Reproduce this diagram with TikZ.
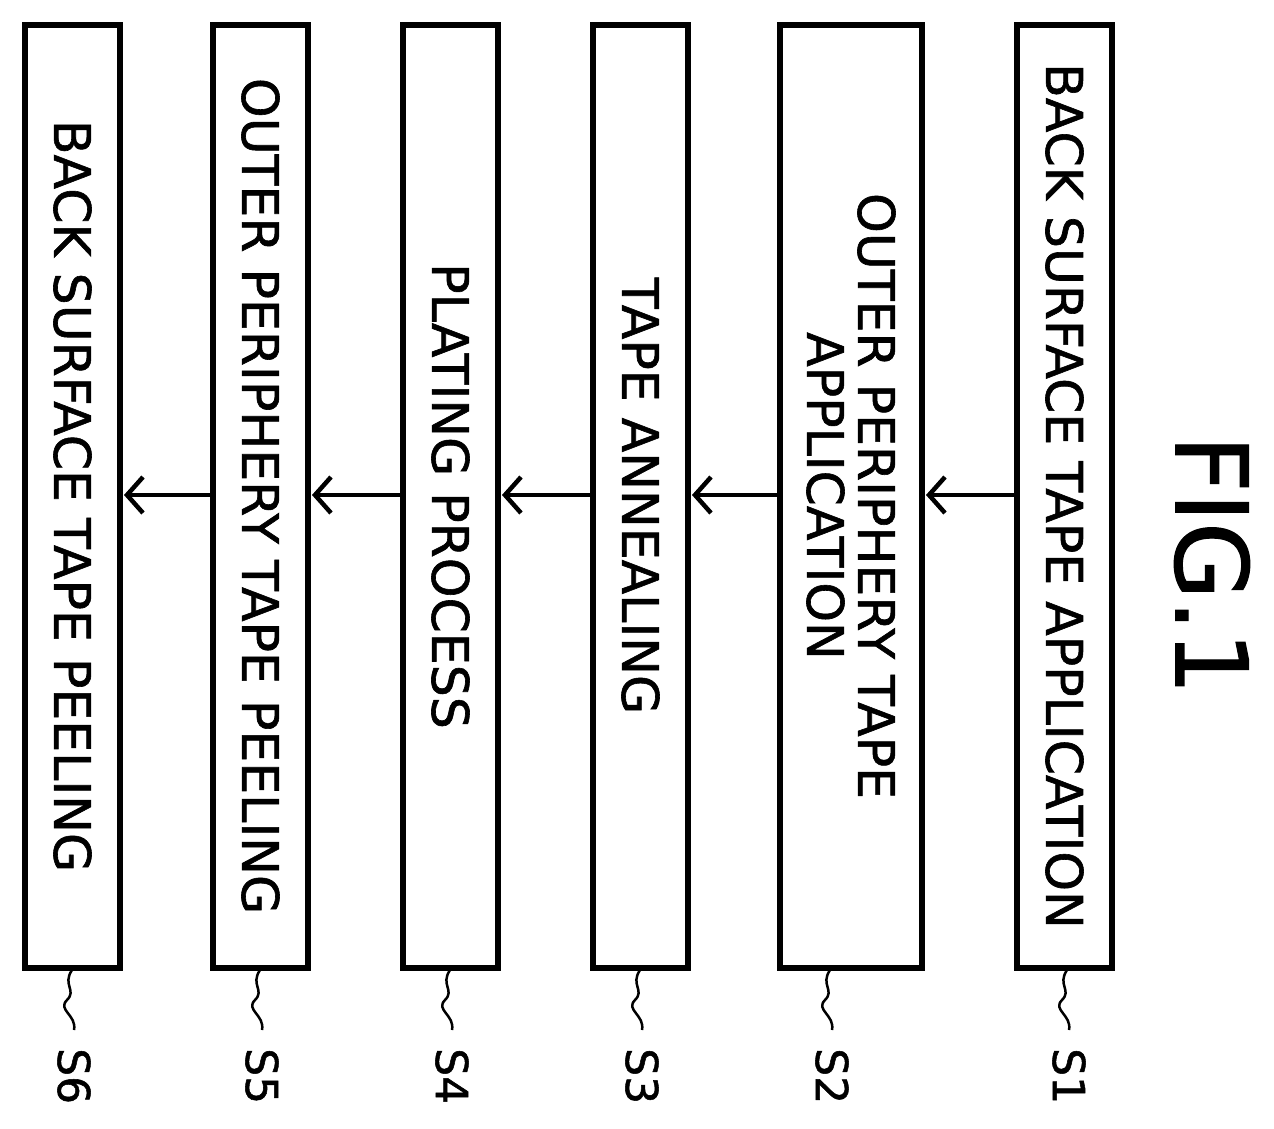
\documentclass[tikz,border=0pt]{standalone}
\usepackage{fontspec}
\setmainfont{DejaVu Sans}
\newfontfamily\thk[FakeBold=1.2]{DejaVu Sans}
\usetikzlibrary{arrows.meta}
\begin{document}
\begin{tikzpicture}[x=1pt,y=-1pt,
 stepbox/.style={draw,line width=6pt,line join=miter},
 lbl/.style={rotate=-90,font=\thk\fontsize{50.5}{51}\selectfont,align=center,inner sep=0},
 arr/.style={line width=4.5pt,-{Straight Barb[length=16pt,width=36pt,line width=4.5pt]}},
 sq/.style={line width=2.5pt}]
\useasboundingbox (0,0) rectangle (1274,1128);
\foreach \n/\a/\b/\t/\q in {6/25/120/{BACK SURFACE TAPE PEELING}/72,
 5/213/308/{OUTER PERIPHERY TAPE PEELING}/260,
 4/403/498/{PLATING PROCESS}/450,
 3/593/688/{TAPE ANNEALING}/640,
 2/780/922/{OUTER PERIPHERY TAPE\\APPLICATION}/830,
 1/1017/1112/{BACK SURFACE TAPE APPLICATION}/1067}{
 \draw[stepbox] (\a,25) rectangle (\b,968);
 \node[lbl] (t\n) at ({(\a+\b)/2},496) {\t};
 \coordinate (b\n) at (\q,970);
 \draw[sq] (b\n) .. controls (\q-10,985) and (\q+5,990) .. (\q-5,1000)
   .. controls (\q-15,1010) and (\q+5,1015) .. (\q+2,1030);
 \node[lbl,font=\thk\fontsize{44}{46}\selectfont,anchor=west] (s\n) at (\q+2,1048) {S\n};
}
\foreach \f/\t in {1017/922,780/688,593/498,403/308,213/120}
 \draw[arr] (\f,495) -- (\t+4,495);
\node[rotate=-90,font=\thk\fontsize{100}{110}\selectfont,inner sep=0] (fig) at (1212,565) {FIG.1};
\end{tikzpicture}
\end{document}
